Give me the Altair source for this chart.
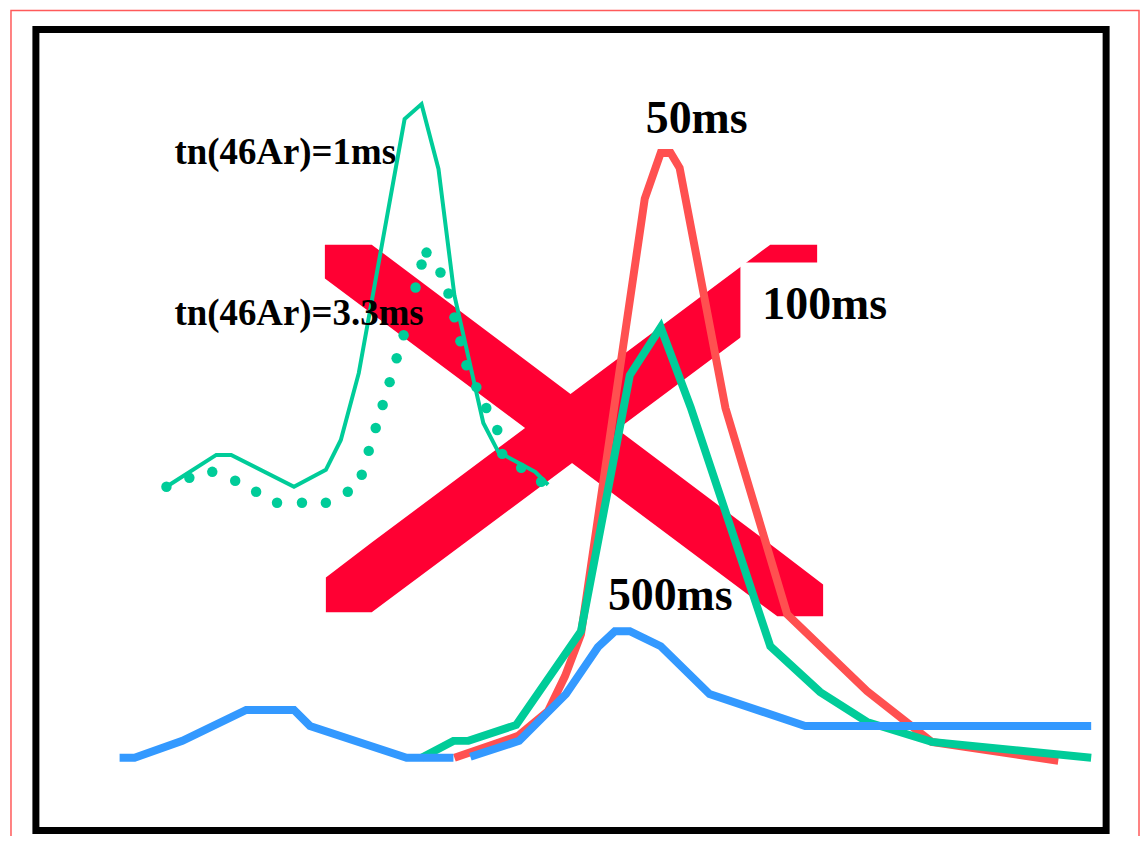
import altair as alt
import pandas as pd

# ---- curves (x: channel, y: counts) ----
# 50 ms half-life (red)
red_x = [420, 484, 514, 531, 547, 611, 627, 637, 646, 692, 754, 834, 899, 1026]
red_y = [73, 95, 120, 155, 197, 634, 680, 680, 665, 424, 217, 140, 89, 70]

# 100 ms half-life (green, thick)
g100_x = [387, 419, 434, 482, 547, 596, 627, 657, 737, 787, 834, 899, 1059]
g100_y = [73, 90, 90, 106, 200, 457, 505, 425, 185, 139, 109, 89, 73]

# 500 ms half-life (blue), two segments
blue_x = [84, 99, 147, 211, 259, 275, 372, 419,
          436, 485, 532, 564, 581, 596, 627, 676, 772, 1059]
blue_y = [73, 73, 90, 121, 121, 105, 73, 73,
          74, 90, 137, 184, 200, 200, 185, 137, 105, 105]
blue_seg = [1] * 8 + [2] * 10

# tn(46Ar)=1ms (thin green line)
g1_x = [131, 181, 196, 259, 291, 306, 324, 370, 387, 404, 420, 449, 464, 501, 514]
g1_y = [345, 377, 377, 345, 362, 392, 459, 714, 729, 664, 537, 409, 380, 360, 347]

# tn(46Ar)=3.3ms (dotted green)
g33_x = [131, 154, 177, 200, 221, 242, 267, 291, 313, 327, 334, 341, 348, 355, 362,
         369, 381, 387, 392, 406, 414, 420, 426, 432, 442, 452, 463, 468, 487, 507]
g33_y = [345, 354, 360, 351, 340, 329, 329, 329, 340, 357, 381, 404, 427, 450, 474,
         497, 545, 568, 580, 560, 539, 515, 491, 467, 445, 424, 402, 378, 364, 350]

# big red cross (two bands: upper edge / lower edge)
band_id = ["a", "a", "a", "a", "b", "b", "b", "b"]
band_x = [290, 337, 744, 790, 291, 337, 737, 784]
band_top = [588, 588, 282, 247, 254, 289, 588, 588]
band_bot = [554, 519, 215, 215, 219, 219, 517, 552]

# labels
lab_text = ["tn(46Ar)=1ms", "tn(46Ar)=3.3ms", "50ms", "100ms", "500ms"]
lab_x = [139, 139, 612, 729, 574]
lab_y = [669, 507, 700, 513, 221]
lab_size = [37, 37, 46, 46, 46]

# frame, outer border, and label backing box
frame = dict(x=[0], x2=[1074], y=[0], y2=[804])
outer = dict(x=[-25], x2=[1107], y=[823], y2=[-60])
box100 = dict(x=[707], x2=[870], y=[570], y2=[487])

XS = alt.Scale(domain=[0, 1074], nice=False, zero=False)
YS = alt.Scale(domain=[0, 804], nice=False, zero=False)


def X(f="x"):
    return alt.X(f"{f}:Q", scale=XS, axis=None)


def Y(f="y"):
    return alt.Y(f"{f}:Q", scale=YS, axis=None)


def line_df(xs, ys, seg=None):
    return pd.DataFrame({"x": xs, "y": ys, "i": list(range(len(xs))),
                         "seg": seg if seg is not None else [1] * len(xs)})


outer_l = alt.Chart(pd.DataFrame(outer)).mark_rect(
    filled=False, stroke="#FF5A5A", strokeWidth=1.5
).encode(x=X(), x2="x2:Q", y=Y(), y2="y2:Q")

frame_l = alt.Chart(pd.DataFrame(frame)).mark_rect(
    filled=False, stroke="black", strokeWidth=7
).encode(x=X(), x2="x2:Q", y=Y(), y2="y2:Q")

bands = alt.Chart(pd.DataFrame({"b": band_id, "x": band_x, "top": band_top, "bot": band_bot})).mark_area(
    color="#FF0033", opacity=1, interpolate="linear"
).encode(x=X(), y=Y("top"), y2="bot:Q", detail="b:N")

box_l = alt.Chart(pd.DataFrame(box100)).mark_rect(
    fill="white"
).encode(x=X(), x2="x2:Q", y=Y(), y2="y2:Q")


def thick(df, color, width=8):
    return alt.Chart(df).mark_line(
        color=color, strokeWidth=width, strokeJoin="miter", strokeCap="butt"
    ).encode(x=X(), y=Y(), order="i:Q", detail="seg:N")


red_l = thick(line_df(red_x, red_y), "#FF5050")
g100_l = thick(line_df(g100_x, g100_y), "#00CC99")
blue_l = thick(line_df(blue_x, blue_y, blue_seg), "#3399FF")
g1_l = thick(line_df(g1_x, g1_y), "#00CC99", width=4)

dots = alt.Chart(pd.DataFrame({"x": g33_x, "y": g33_y})).mark_circle(
    color="#00CC99", size=110, opacity=1
).encode(x=X(), y=Y())

labels = alt.Chart(pd.DataFrame({"t": lab_text, "x": lab_x, "y": lab_y, "s": lab_size})).mark_text(
    align="left", baseline="alphabetic", font="Liberation Serif", fontWeight="bold", color="black"
).encode(x=X(), y=Y(), text="t:N", size=alt.Size("s:Q", scale=None, legend=None))

chart = alt.layer(
    outer_l, frame_l, bands, box_l, red_l, g100_l, blue_l, g1_l, dots, labels
).properties(
    width=1074, height=804,
    autosize=alt.AutoSizeParams(type="none"),
    padding={"left": 28, "top": 20, "right": 34, "bottom": 4},
    background="white",
).configure_view(stroke=None)

chart.save("out.html", embed_options={"renderer": "svg", "actions": False})
